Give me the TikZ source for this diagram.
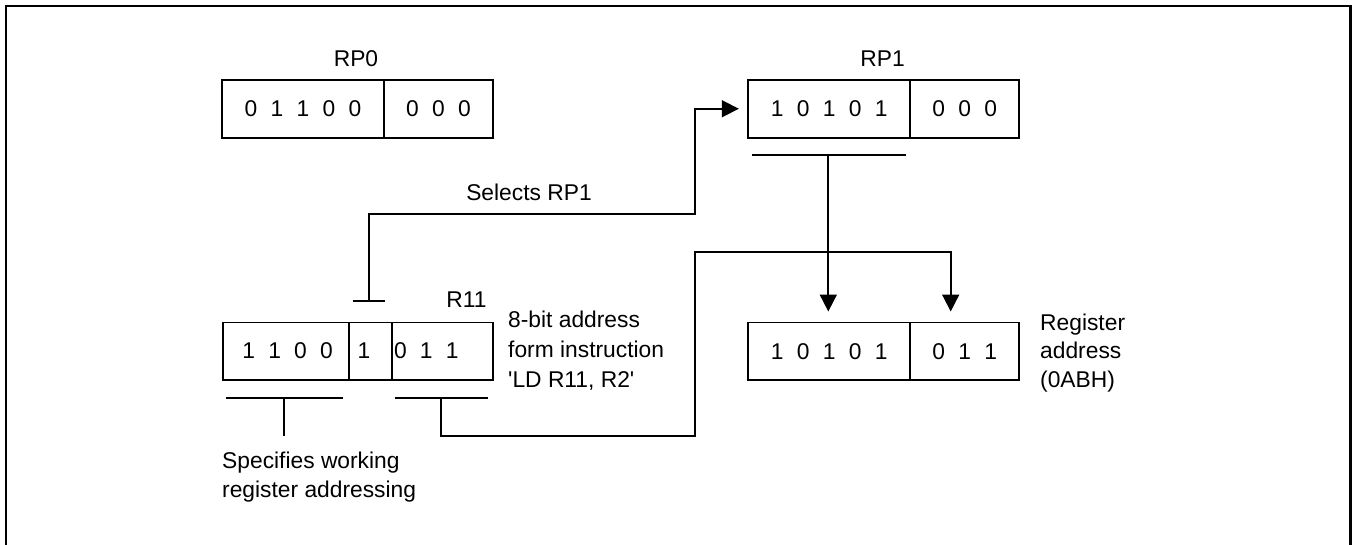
\documentclass[tikz,border=0pt]{standalone}
\usepackage{fontspec}
\setmainfont{Liberation Sans}[Ligatures=TeXOff]
\usetikzlibrary{arrows.meta}
\newcommand{\bgap}{\hspace{13.3pt}}
\begin{document}
\begin{tikzpicture}[x=1pt,y=-1pt,
  font=\fontsize{22.8}{29}\selectfont,
  part/.style={draw, line width=1.8pt, inner sep=0pt, anchor=north west, minimum height=57.7pt},
  bits/.style={inner sep=0pt},
  lbl/.style={inner sep=0pt, anchor=base},
  txt/.style={inner sep=0pt, anchor=base west},
  wire/.style={line width=1.8pt},
  arr/.style={wire, -{Triangle[length=17pt,width=17pt]}},
]
\useasboundingbox (0,0) rectangle (1352,544);
% frame
\draw[line width=2.4pt] (5.7,548) -- (5.7,5.7) -- (1350.3,5.7) -- (1350.3,548);

% RP0
\node[part, minimum width=162pt] (rp0a) at (221,79) {};
\node[part, minimum width=109pt] (rp0b) at (383,79) {};
\node[bits] (rp0at) at (rp0a.center) {0\bgap 1\bgap 1\bgap 0\bgap 0};
\node[bits] (rp0bt) at (rp0b.center) {0\bgap 0\bgap 0};
\node[lbl] (rp0l) at (356,66) {RP0};

% RP1
\node[part, minimum width=162pt] (rp1a) at (747.3,79) {};
\node[part, minimum width=109pt] (rp1b) at (909.3,79) {};
\node[bits] (rp1at) at (rp1a.center) {1\bgap 0\bgap 1\bgap 0\bgap 1};
\node[bits] (rp1bt) at (rp1b.center) {0\bgap 0\bgap 0};
\node[lbl] (rp1l) at (882.5,66) {RP1};

% instruction box
\node[part, minimum width=126pt] (ia) at (221.7,321.5) {};
\node[part, minimum width=43pt] (ib) at (347.7,321.5) {};
\node[part, minimum width=101.6pt] (ic) at (390.7,321.5) {};
\node[bits] (iat) at (287.6,350.35) {1\bgap 1\bgap 0\bgap 0};
\node[bits] (ibt) at (364,350.35) {1};
\node[bits, anchor=west] (ict) at (393.8,350.35) {0\bgap 1\bgap 1};
\node[lbl] (r11) at (466.5,307.5) {R11};
\node[txt] (in1) at (508,327.5) {8-bit address};
\node[txt] (in2) at (508,357.5) {form instruction};
\node[txt] (in3) at (508,387.5) {'LD R11, R2'};

% register address box
\node[part, minimum width=162pt] (ra) at (747.3,321.5) {};
\node[part, minimum width=109pt] (rb) at (909.3,321.5) {};
\node[bits] (rat) at (ra.center) {1\bgap 0\bgap 1\bgap 0\bgap 1};
\node[bits] (rbt) at (rb.center) {0\bgap 1\bgap 1};
\node[txt] (reg1) at (1040,330) {Register};
\node[txt] (reg2) at (1040,358.5) {address};
\node[txt] (reg3) at (1040,387) {(0ABH)};

% working register text
\node[txt] (sp1) at (222,468) {Specifies working};
\node[txt] (sp2) at (222,497) {register addressing};

% selects RP1
\node[lbl] (sel) at (529,200) {Selects RP1};

% T-bar and selects wire
\coordinate (tbl) at (352.7,300.7);
\coordinate (tbr) at (385,300.7);
\coordinate (tbm) at (369,300.7);
\coordinate (sj) at (695,214);
\draw[wire] (tbl) -- (tbr);
\draw[arr, shorten >=8.5pt] (tbm) |- (sj) |- (rp1a.west);

% underbar under RP1 high bits
\coordinate (u1l) at (752,155);
\coordinate (u1r) at (905.7,155);
\coordinate (u1m) at (828.3,155);
\draw[wire] (u1l) -- (u1r);
\draw[arr, shorten >=10pt] (u1m) -- (u1m |- ra.north);

% underbar under 011
\coordinate (u2l) at (394.5,398.3);
\coordinate (u2r) at (487.8,398.3);
\coordinate (u2m) at (441.3,398.3);
\coordinate (c1) at (441.3,435.7);
\coordinate (c2) at (695,251.7);
\coordinate (c3) at (950.7,321.5);
\draw[wire] (u2l) -- (u2r);
\draw[arr, shorten >=10pt] (u2m) -- (c1) -| (c2) -| (c3);

% underbar under 1100
\coordinate (u3l) at (225.7,398.3);
\coordinate (u3r) at (343.3,398.3);
\coordinate (u3m) at (284,398.3);
\coordinate (u3e) at (284,436);
\draw[wire] (u3l) -- (u3r);
\draw[wire] (u3m) -- (u3e);
\end{tikzpicture}
\end{document}
